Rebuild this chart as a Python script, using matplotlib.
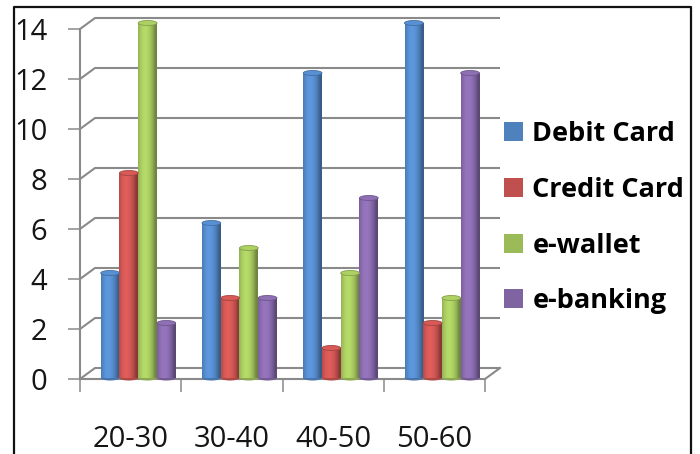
import matplotlib
matplotlib.use('Agg')
import matplotlib.pyplot as plt
import numpy as np
from matplotlib.patches import Ellipse, Rectangle
from matplotlib.lines import Line2D
from matplotlib.colors import to_rgb

categories = ['20-30', '30-40', '40-50', '50-60']
series_names = ['Debit Card', 'Credit Card', 'e-wallet', 'e-banking']
debit = [4, 6, 12, 14]
credit = [8, 3, 1, 2]
ewallet = [14, 5, 4, 3]
ebanking = [2, 3, 7, 12]
yticks = [0, 2, 4, 6, 8, 10, 12, 14]
colors = ['#4F81BD', '#C0504D', '#9BBB59', '#8064A2']

plt.rcParams['font.family'] = ['Open Sans', 'DejaVu Sans']

W, H = 700, 454
fig = plt.figure(figsize=(7, 4.54), dpi=100)
fig.patch.set_facecolor('white')


def px(x0, y0, x1, y1):
    return [x0 / W, 1 - y1 / H, (x1 - x0) / W, (y1 - y0) / H]


ytop = 14.6
ax = fig.add_axes(px(80, 379 - ytop * 25, 485, 379))
ax.patch.set_visible(False)
for s in ax.spines.values():
    s.set_visible(False)

grid_c = '#8a8a8a'
dx = 15 / (405 / 4)
dy = 11 / 25
lift = 0.2  # half-depth lift of the 3D bar tops

# back wall gridlines + side connectors
for v in yticks:
    ax.plot([-0.5, -0.5 + dx, 3.5 + dx], [v + 0, v + dy, v + dy], color=grid_c, lw=1.5,
            clip_on=False, zorder=1, solid_capstyle='butt')
# floor front edge
ax.plot([-0.5, 3.5, 3.5 + dx], [0, 0, dy], color=grid_c, lw=1.5, clip_on=False, zorder=1)
# front vertical axis
ax.plot([-0.5, -0.5], [0, 14], color=grid_c, lw=1.5, clip_on=False, zorder=1)

series = [debit, credit, ewallet, ebanking]
w = 0.185
off = 0.075
xs = np.arange(len(categories))

t = np.linspace(0, 1, 64)
shade = 0.72 + 0.45 * np.clip(np.cos((t - 0.38) * np.pi * 0.95), 0, None) ** 0.8

for i, (vals, c) in enumerate(zip(series, colors)):
    base = np.array(to_rgb(c))
    img = np.clip(base[None, :] * shade[:, None], 0, 1)[None, :, :]
    bars = ax.bar(xs + off + (i - 1.5) * w, np.array(vals) + lift, bottom=0.04, width=w,
                  color=c, zorder=3, linewidth=0)
    for b in bars:
        x0 = b.get_x()
        y0 = b.get_y()
        top = y0 + b.get_height()
        im = ax.imshow(img, extent=[x0, x0 + w, y0, top], aspect='auto', zorder=3.1,
                       interpolation='bilinear')
        im.set_clip_path(b)
        cap = Ellipse((x0 + w / 2, top), width=w, height=0.2,
                      facecolor=np.clip(base * 1.12, 0, 1), edgecolor=np.clip(base * 0.85, 0, 1),
                      lw=0.6, zorder=4)
        ax.add_patch(cap)
        bot = Ellipse((x0 + w / 2, y0), width=w, height=0.2,
                      facecolor=np.clip(base * 0.9, 0, 1), edgecolor='none', zorder=2.9,
                      clip_on=False)
        ax.add_patch(bot)

ax.set_aspect('auto')
ax.set_xlim(-0.5, 3.5)
ax.set_ylim(0, ytop)

ax.set_yticks(yticks)
ax.set_yticklabels([str(v) for v in yticks])
ax.tick_params(axis='y', direction='out', length=8.6, width=1.1, color=grid_c, pad=15,
               labelsize=21, labelcolor='#151515')
ax.set_xticks(xs)
ax.set_xticklabels(categories)
ax.set_xticks([-0.5, 0.5, 1.5, 2.5, 3.5], minor=True)
ax.tick_params(axis='x', which='major', length=0, pad=33, labelsize=21, labelcolor='#151515')
ax.tick_params(axis='x', which='minor', direction='out', length=9.4, width=1.1, color=grid_c)

handles = [Rectangle((0, 0), 1, 1, facecolor=c, edgecolor='none') for c in colors]
fig.legend(handles, series_names, loc='upper left', bbox_to_anchor=(504 / W, 1 - 121 / H),
           prop={'weight': 'bold', 'size': 19.5}, frameon=False, handlelength=0.7,
           handleheight=0.7, handletextpad=0.35, labelspacing=1.1, borderpad=0,
           borderaxespad=0)

# outer frame
fig.add_artist(Line2D([14 / W, 14 / W, 691 / W, 691 / W], [0, 1 - 7 / H, 1 - 7 / H, 0],
                      transform=fig.transFigure, color='#111111', lw=1.6))

fig.savefig('out.png', dpi=100)
